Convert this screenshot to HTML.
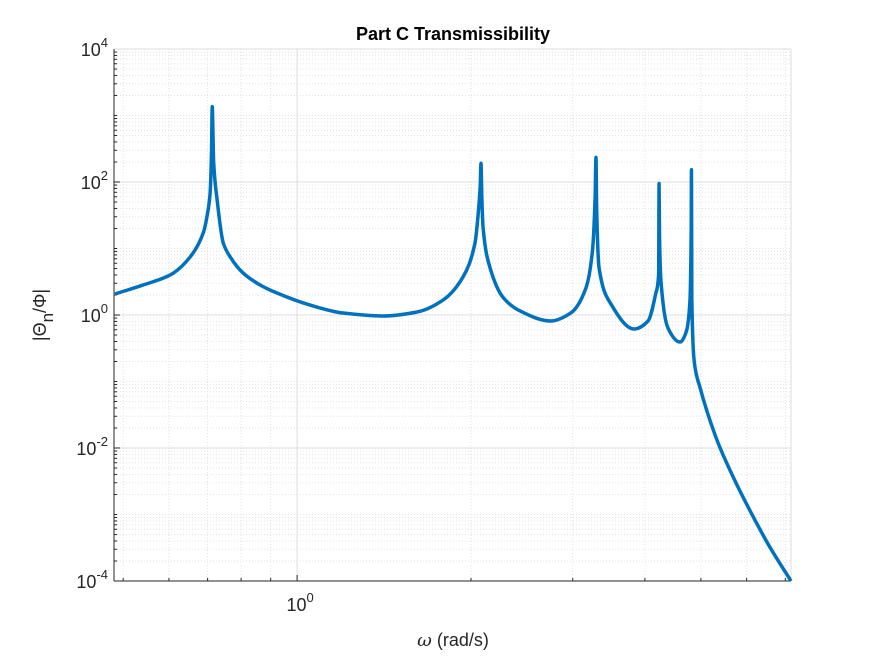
<!DOCTYPE html>
<html><head><meta charset="utf-8"><style>
html,body{margin:0;padding:0;background:#fff;}
svg{display:block;font-family:"Liberation Sans",sans-serif;}
</style></head><body>
<svg id="chart" width="875" height="656" viewBox="0 0 875 656" xmlns="http://www.w3.org/2000/svg">
<rect width="875" height="656" fill="#fff"/>
<g id="grid"></g>
<g id="axes"></g>
<g id="series"></g>
<text x="453" y="40" text-anchor="middle" font-size="18" font-weight="bold" fill="#000">Part C Transmissibility</text>
<text x="453" y="646" text-anchor="middle" font-size="18" fill="#262626"><tspan font-family="'DejaVu Serif',serif" font-style="italic">ω</tspan> (rad/s)</text>
<text transform="translate(46,315) rotate(-90)" text-anchor="middle" font-size="18" fill="#262626">|Θ<tspan dy="7" font-size="17">n</tspan><tspan dy="-7">/Φ|</tspan></text>
</svg>
<script>
const xVals=[0.484,0.5416,0.603,0.653,0.688,0.699,0.707,0.711,0.713,0.717,0.727,0.745,0.766,0.806,0.863,0.923,1.053,1.201,1.409,1.613,1.789,1.937,2.032,2.056,2.075,2.081,2.088,2.098,2.158,2.277,2.432,2.746,2.975,3.162,3.245,3.280,3.291,3.300,3.331,3.494,3.83,4.05,4.174,4.225,4.232,4.240,4.264,4.385,4.60,4.72,4.786,4.810,4.815,4.822,4.883,4.98,5.115,5.357,5.686,6.075,6.58,7.16];
const yVals=[2.07,2.83,4.0,7.47,17.2,32,68.7,295,1358,200,54,12.1,7.47,4.29,2.83,2.14,1.41,1.07,0.966,1.11,1.68,3.73,12.1,29.9,90,191,60,21.1,5.1,1.80,1.15,0.812,1.07,2.55,9.2,60,235,40,5.19,1.46,0.615,0.812,2.07,4.14,95,15,3.25,0.637,0.392,0.574,1.62,20,153,1.68,0.165,0.0824,0.0371,0.0118,0.00367,0.00116,0.000324,0.0001];
const yTickExps=[-4,-2,0,2,4];
const xTickLabels=["10","0"];
const NS="http://www.w3.org/2000/svg";
const L=114,R=791,T=49,B=581,XMIN=0.482,XMAX=7.16,YMIN=-4,YMAX=4;
function sx(v){return L+(Math.log10(v)-Math.log10(XMIN))/(Math.log10(XMAX)-Math.log10(XMIN))*(R-L);}
function sy(v){return B-(Math.log10(v)-YMIN)/(YMAX-YMIN)*(B-T);}
function mk(tag,attrs,parent){const e=document.createElementNS(NS,tag);for(const k in attrs)e.setAttribute(k,attrs[k]);parent.appendChild(e);return e;}
const grid=document.getElementById('grid'),axes=document.getElementById('axes'),series=document.getElementById('series');
for(let d=YMIN;d<YMAX;d++){for(let m=1;m<10;m++){const v=m*Math.pow(10,d);const y=sy(v);
 const major=(m===1&&d%2===0);
 const ln=mk('line',{x1:L,x2:R,y1:y,y2:y,stroke:major?'#dcdcdc':'#e3e3e3','stroke-width':1,'stroke-dasharray':major?'none':'1,2'},grid);
 
 
 const tk=mk('line',{x1:L,x2:L+(major?6:3),y1:y,y2:y,stroke:'#262626','stroke-width':1},axes);
 
 }}
{const ln=mk('line',{x1:L,x2:R,y1:T,y2:T,stroke:'#dcdcdc','stroke-width':1},grid);}
const xMin=[0.5,0.6,0.7,0.8,0.9,1,2,3,4,5,6,7];
xMin.forEach(v=>{const x=sx(v);const major=v===1;
 const ln=mk('line',{x1:x,x2:x,y1:T,y2:B,stroke:major?'#dcdcdc':'#e0e0e0','stroke-width':1,'stroke-dasharray':major?'none':'1,2'},grid);
 
 
 const tk=mk('line',{x1:x,x2:x,y1:B,y2:B-(major?6:3),stroke:'#262626','stroke-width':1},axes);
 
 });
{const ln=mk('line',{x1:R,x2:R,y1:T,y2:B,stroke:'#dcdcdc','stroke-width':1},grid);}
{const a=mk('line',{x1:L,x2:L,y1:T,y2:B,stroke:'#262626','stroke-width':1},axes);
 const b=mk('line',{x1:L,x2:R,y1:B,y2:B,stroke:'#262626','stroke-width':1},axes);}
yTickExps.forEach(e=>{const y=sy(Math.pow(10,e));
 const t=mk('text',{x:108,y:y+7,'text-anchor':'end','font-size':18,fill:'#262626'},axes);
 
 
 t.innerHTML='10<tspan dy="-9" font-size="13">'+e+'</tspan>';});
{const x=sx(1);const t=mk('text',{x:x+3,y:611,'text-anchor':'middle','font-size':18,fill:'#262626'},axes);
 
 
 t.innerHTML=xTickLabels[0]+'<tspan dy="-9" font-size="13">'+xTickLabels[1]+'</tspan>';}
const P=xVals.map((v,i)=>[sx(v),sy(yVals[i])]);
const n=P.length,dk=[],m=[];
for(let i=0;i<n-1;i++){dk.push((P[i+1][1]-P[i][1])/(P[i+1][0]-P[i][0]));}
m[0]=dk[0];m[n-1]=dk[n-2];
for(let i=1;i<n-1;i++){if(dk[i-1]*dk[i]<=0)m[i]=0;else{const w1=2*(P[i+1][0]-P[i][0])+(P[i][0]-P[i-1][0]),w2=(P[i+1][0]-P[i][0])+2*(P[i][0]-P[i-1][0]);m[i]=(w1+w2)/(w1/dk[i-1]+w2/dk[i]);}}
let d='M'+P[0][0].toFixed(2)+','+P[0][1].toFixed(2);
for(let i=0;i<n-1;i++){const h=P[i+1][0]-P[i][0];
 d+='C'+(P[i][0]+h/3).toFixed(2)+','+(P[i][1]+m[i]*h/3).toFixed(2)+' '+(P[i+1][0]-h/3).toFixed(2)+','+(P[i+1][1]-m[i+1]*h/3).toFixed(2)+' '+P[i+1][0].toFixed(2)+','+P[i+1][1].toFixed(2);}
const p=mk('path',{d:d,fill:'none',stroke:'#0072BD','stroke-width':3.5,'stroke-linejoin':'round','stroke-linecap':'butt'},series);


</script>
</body></html>
